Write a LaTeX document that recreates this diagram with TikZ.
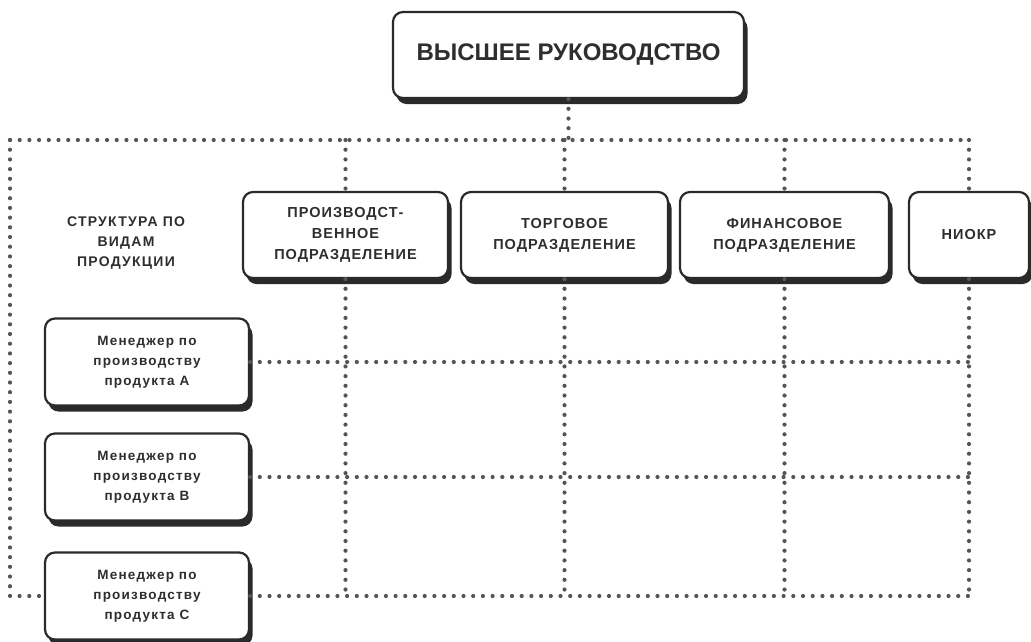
\documentclass[tikz,border=0pt]{standalone}
\usepackage{fontspec}
\setmainfont{Liberation Sans}
\newfontfamily\deptfont{Liberation Sans}[LetterSpace=7]
\newfontfamily\mgrfont{Liberation Sans}[LetterSpace=9]
\usetikzlibrary{shadows}
\definecolor{boxline}{HTML}{2A2A2A}
\definecolor{txt}{HTML}{2E2E2E}
\definecolor{dotc}{HTML}{555555}
\tikzset{
  orgbox/.style={draw=boxline, line width=2.2pt, fill=white, rounded corners=10pt,
    inner sep=2pt, align=center, text=txt,
    drop shadow={shadow xshift=3.5pt, shadow yshift=-6pt, fill=boxline, opacity=1}},
  topbox/.style={orgbox, minimum width=351pt, minimum height=86pt,
    font=\fontsize{24}{29}\selectfont\bfseries},
  deptbox/.style={orgbox, minimum height=86pt,
    font=\deptfont\fontsize{14.5}{21}\selectfont\bfseries},
  mgrbox/.style={orgbox, minimum width=204pt, minimum height=87pt,
    font=\mgrfont\fontsize{13.5}{20}\selectfont\bfseries},
  lbl/.style={align=center, text=txt, font=\mgrfont\fontsize{14}{20}\selectfont\bfseries},
  dots/.style={draw=dotc, line width=4.2pt, line cap=round, dash pattern=on 0pt off 9.7pt}
}
\begin{document}
\begin{tikzpicture}[x=1pt,y=-1pt]
\useasboundingbox (0,0) rectangle (1031,641);
% nodes
\node[topbox] (top) at (568.5,55) {ВЫСШЕЕ РУКОВОДСТВО};
\node[deptbox, minimum width=205pt] (d1) at (345.5,235) {ПРОИЗВОДСТ-\\ВЕННОЕ\\ПОДРАЗДЕЛЕНИЕ};
\node[deptbox, minimum width=207pt] (d2) at (564.5,235) {ТОРГОВОЕ\\ПОДРАЗДЕЛЕНИЕ};
\node[deptbox, minimum width=209pt] (d3) at (784.5,235) {ФИНАНСОВОЕ\\ПОДРАЗДЕЛЕНИЕ};
\node[deptbox, minimum width=120pt] (d4) at (969,235) {НИОКР};
\node[lbl] (lab) at (126,243) {СТРУКТУРА ПО\\ВИДАМ\\ПРОДУКЦИИ};
\node[mgrbox] (ma) at (147,362) {Менеджер по\\производству\\продукта А};
\node[mgrbox] (mb) at (147,477) {Менеджер по\\производству\\продукта В};
\node[mgrbox] (mc) at (147,596) {Менеджер по\\производству\\продукта С};
% coordinates
\coordinate (tl) at (10,140);
\coordinate (tr) at (d4.north |- tl);
% top connectors
\draw[dots] (top.south) -- (top.south |- tl);
\draw[dots] (tl) -- (tr);
\draw[dots] (tl) |- (mc.west);
\foreach \d in {d1,d2,d3,d4}{
  \draw[dots] (\d.north |- tl) -- (\d.north);
  \draw[dots] (\d.south) -- (\d.south |- mc.east);
}
\foreach \m in {ma,mb,mc}{
  \draw[dots] (\m.east) -- (\m.east -| d4.south);
}
\end{tikzpicture}
\end{document}
